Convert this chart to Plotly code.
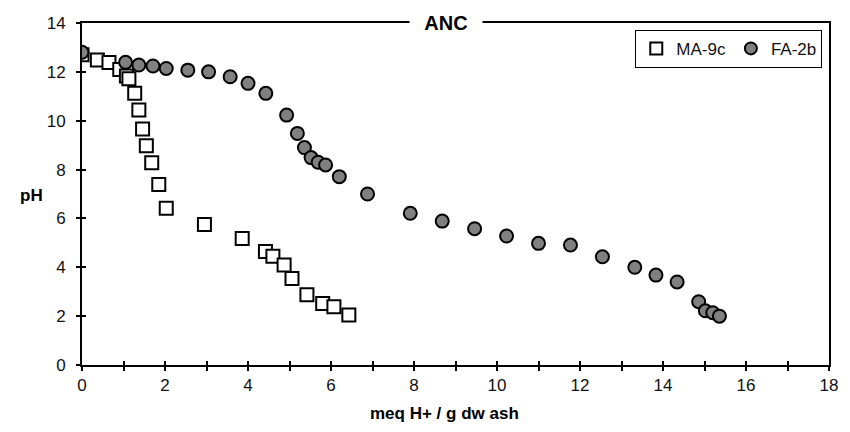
import plotly.graph_objects as go

# MA-9c (open squares)
ma_x = [0, 0.37, 0.65, 0.91, 1.07, 1.13, 1.27, 1.37, 1.46, 1.55, 1.68, 1.85, 2.03,
        2.95, 3.86, 4.42, 4.6, 4.87, 5.06, 5.42, 5.8, 6.07, 6.43]
ma_y = [12.7, 12.49, 12.38, 12.1, 11.83, 11.72, 11.12, 10.44, 9.66, 8.98, 8.28, 7.39, 6.42,
        5.75, 5.18, 4.65, 4.45, 4.09, 3.54, 2.88, 2.52, 2.38, 2.05]

# FA-2b (grey circles)
fa_x = [0, 1.05, 1.37, 1.71, 2.03, 2.55, 3.05, 3.57, 4.0, 4.43, 4.93, 5.19, 5.36, 5.52,
        5.69, 5.87, 6.2, 6.88, 7.91, 8.68, 9.46, 10.23, 11.0, 11.77, 12.54, 13.32, 13.83,
        14.34, 14.86, 15.02, 15.2, 15.36]
fa_y = [12.8, 12.39, 12.28, 12.24, 12.14, 12.07, 12.0, 11.8, 11.53, 11.12, 10.23, 9.48,
        8.9, 8.49, 8.3, 8.19, 7.71, 7.0, 6.21, 5.89, 5.58, 5.28, 4.98, 4.91, 4.43, 4.0,
        3.68, 3.4, 2.59, 2.22, 2.14, 2.0]

x_ticks = list(range(0, 19))
x_labels = [str(v) if v % 2 == 0 else "" for v in x_ticks]
y_ticks = list(range(0, 15, 2))

FONT = "Arial, Liberation Sans, sans-serif"
FS = 17

fig = go.Figure()
fig.add_trace(go.Scatter(
    x=ma_x, y=ma_y, mode="markers", name="MA-9c",
    marker=dict(symbol="square", size=13, color="white",
                line=dict(color="black", width=2)),
))
fig.add_trace(go.Scatter(
    x=fa_x, y=fa_y, mode="markers", name="FA-2b",
    marker=dict(symbol="circle", size=13, color="#808080",
                line=dict(color="black", width=2)),
))
# empty trace to hold the overlay axes (inner half of crossing ticks)
fig.add_trace(go.Scatter(x=[], y=[], xaxis="x2", yaxis="y2", showlegend=False,
                         hoverinfo="skip"))

axis_common = dict(showgrid=False, zeroline=False, linecolor="black", linewidth=2,
                   tickcolor="black", tickwidth=1.5, ticklen=4,
                   tickfont=dict(family=FONT, size=17, color="#111"))

fig.update_layout(
    width=850, height=432,
    margin=dict(l=82, r=17, t=23, b=67),
    paper_bgcolor="white", plot_bgcolor="white",
    font=dict(family=FONT, size=FS, color="#111"),
    xaxis=dict(range=[0, 18], tickmode="array", tickvals=x_ticks, ticktext=x_labels,
               ticks="outside", mirror=True, showline=True, **axis_common),
    yaxis=dict(range=[0, 14], tickmode="array", tickvals=y_ticks,
               ticks="outside", mirror=True, showline=True, ticklabelstandoff=7,
               **axis_common),
    xaxis2=dict(overlaying="x", range=[0, 18], tickmode="array", tickvals=x_ticks,
                ticks="inside", showticklabels=False, showline=False, showgrid=False,
                zeroline=False, tickcolor="black", tickwidth=1.5, ticklen=4),
    yaxis2=dict(overlaying="y", range=[0, 14], tickmode="array", tickvals=y_ticks,
                ticks="inside", showticklabels=False, showline=False, showgrid=False,
                zeroline=False, tickcolor="black", tickwidth=1.5, ticklen=4),
    showlegend=True,
    legend=dict(orientation="h", x=0.991, xanchor="right", y=0.98, yanchor="top",
                bgcolor="white", bordercolor="black", borderwidth=1,
                font=dict(family=FONT, size=FS, color="#111"),
                itemwidth=30, itemsizing="constant", tracegroupgap=0),
    annotations=[
        dict(text="<b>ANC</b>", xref="paper", yref="paper", x=0.487, y=1,
             xanchor="center", yanchor="middle", showarrow=False,
             font=dict(family=FONT, size=20, color="black"),
             bgcolor="white", borderpad=2, width=68),
        dict(text="<b>pH</b>", xref="paper", yref="paper", x=-0.068, y=0.496,
             xanchor="center", yanchor="middle", showarrow=False,
             font=dict(family=FONT, size=FS, color="black")),
        dict(text="<b>meq H+ / g dw ash</b>", xref="paper", yref="paper", x=0.485,
             y=-0.142, xanchor="center", yanchor="middle", showarrow=False,
             font=dict(family=FONT, size=FS, color="black")),
    ],
)

fig.write_html("out.html")
